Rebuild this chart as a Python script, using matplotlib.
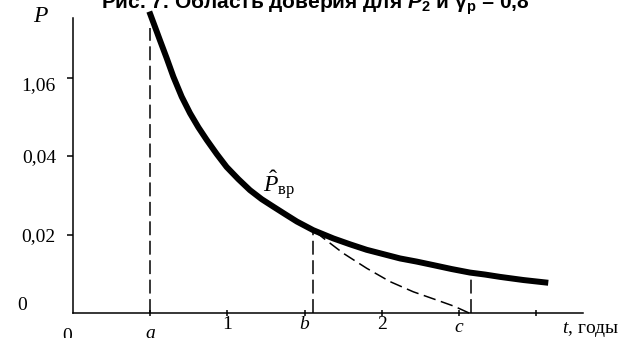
import matplotlib
matplotlib.use("Agg")
import matplotlib.pyplot as plt
from matplotlib.transforms import ScaledTranslation

# --- data ------------------------------------------------------------------
t_curve = [0.494, 0.531, 0.563, 0.607, 0.650, 0.704, 0.758, 0.812, 0.866,
           0.931, 0.995, 1.071, 1.146, 1.222, 1.297, 1.373, 1.450, 1.556,
           1.686, 1.794, 1.902, 2.010, 2.118, 2.226, 2.334, 2.452, 2.571,
           2.668, 2.766, 2.917, 3.078]
p_curve = [0.0768, 0.0729, 0.0695, 0.0649, 0.0602, 0.0551, 0.0509, 0.0473,
           0.0441, 0.0405, 0.0372, 0.0341, 0.0313, 0.0290, 0.0271, 0.0252,
           0.0233, 0.0211, 0.0190, 0.0175, 0.0161, 0.0150, 0.0139, 0.0131,
           0.0122, 0.0112, 0.0103, 0.0098, 0.0092, 0.0084, 0.0077]

t_low = [1.570, 1.621, 1.751, 1.902, 2.053, 2.204, 2.356, 2.470, 2.565]
p_low = [0.0207, 0.0191, 0.0152, 0.0114, 0.0080, 0.0054, 0.0033, 0.0017,
         0.0]

t_vert = [0.50, 1.553, 2.576]
p_vert = [0.0726, 0.0207, 0.0097]

x_ticks = [0.5, 1.0, 1.5, 2.0, 2.5, 3.0]
x_labels = ["$a$", "1", "$b$", "2", "$c$", ""]
y_ticks = [0.02, 0.04, 0.06]
y_labels = ["0,02", "0,04", "1,06"]

title = "Рис. 7. Область доверия для $\\mathbfit{P}_{\\mathbf{2}}$ и $\\mathbf{γ}_{\\mathbf{р}}$ = 0,8"

# --- fonts -------------------------------------------------------------------
plt.rcParams.update({
    "font.family": ["Liberation Serif", "DejaVu Serif"],
    "mathtext.fontset": "custom",
    "mathtext.rm": "Liberation Serif",
    "mathtext.it": "Liberation Serif:italic",
    "mathtext.bf": "Liberation Sans:bold",
    "mathtext.bfit": "Liberation Sans:bold:italic",
    "lines.scale_dashes": False,
})

fig = plt.figure(figsize=(6.2, 3.38), dpi=100)
ax = fig.add_axes([73 / 620, 25 / 338, 510 / 620, 295 / 338])
ax.set_xlim(0, 3.303)
ax.set_ylim(0, 0.07516)

for s in ("top", "right"):
    ax.spines[s].set_visible(False)
for s in ("left", "bottom"):
    ax.spines[s].set_linewidth(1.1)

# main curve
ax.plot(t_curve, p_curve, color="black", lw=4.3, solid_capstyle="butt",
        solid_joinstyle="round", clip_on=False, zorder=3)

# dashed lower boundary and verticals
ax.plot(t_low, p_low, color="black", lw=1.1, dashes=(9, 4), clip_on=False)
ax.vlines(t_vert, 0, p_vert, color="black", lw=1.1,
          linestyles=[(0, (10, 4))], clip_on=False)

# ticks
ax.set_xticks(x_ticks)
ax.set_xticklabels(x_labels, fontsize=14)
ax.tick_params(axis="x", direction="inout", length=4, width=1.1, pad=0)
ax.set_yticks(y_ticks)
ax.set_yticklabels(y_labels, fontsize=14)
ax.tick_params(axis="y", direction="out", length=4.3, width=1.1, pad=8)

def shift(lbl, dx, dy):
    lbl.set_transform(lbl.get_transform() +
                      ScaledTranslation(dx / 100, -dy / 100, fig.dpi_scale_trans))

xl = ax.get_xticklabels()
shift(xl[0], 0, 9)    # a
shift(xl[4], 0, 3)    # c
shift(ax.get_yticklabels()[2], 0, 6)

# extra texts
fig.text(67 / 620, 1 - 328 / 338, "0", fontsize=14, ha="center", va="top")
fig.text(22 / 620, 1 - 305 / 338, "0", fontsize=14, ha="center", va="center")
fig.text(41 / 620, 1 - 17 / 338, "$P$", fontsize=17, ha="center",
         va="center")
fig.text(619 / 620, 1 - 333 / 338, "$t$, годы", fontsize=14, ha="right",
         va="baseline")
ax.text(1.23, 0.0307, "$\\hat{P}_{\\mathrm{вр}}$", fontsize=17,
        ha="left", va="baseline")

fig.text(0.508, 1 - 9 / 338, title, fontsize=15, fontweight="bold",
         family="Liberation Sans", ha="center", va="baseline")

fig.savefig("out.png", dpi=100)
